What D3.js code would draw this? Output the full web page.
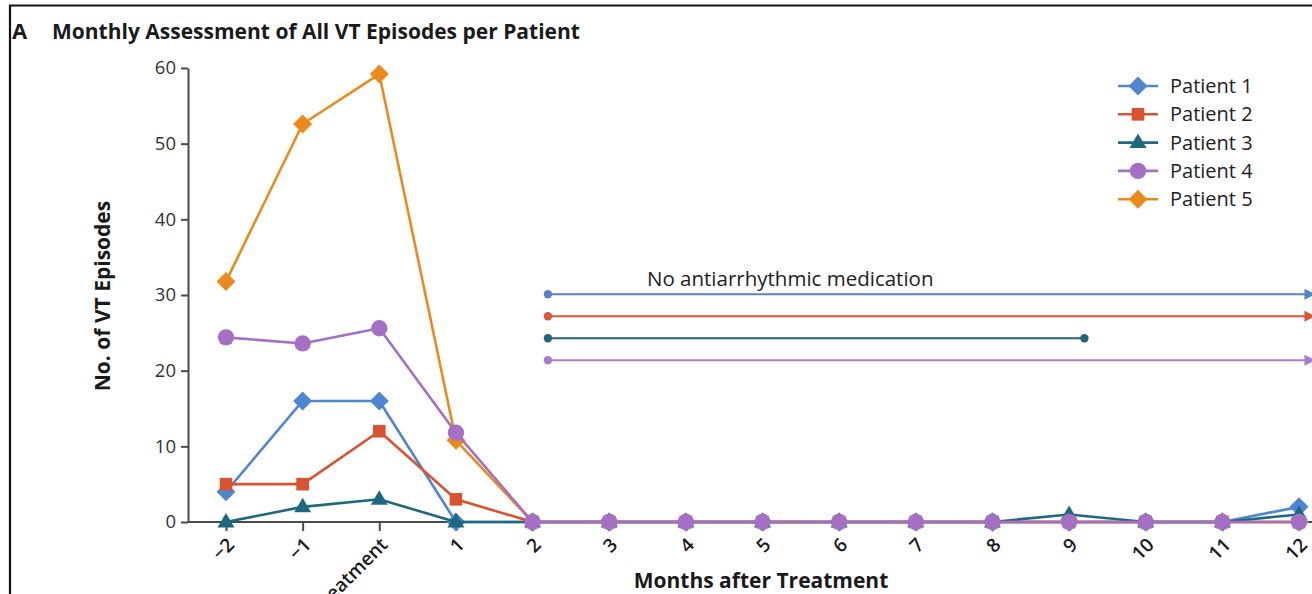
<!DOCTYPE html>
<html>
<head>
<meta charset="utf-8">
<script src="https://cdn.jsdelivr.net/npm/d3@7"></script>
<style>
  html, body { margin: 0; padding: 0; background: #fff; }
  svg { display: block; }
  text { font-family: "Open Sans", "Noto Sans", sans-serif; }
</style>
</head>
<body>
<svg id="chart" width="1312" height="594"></svg>
<script>
// Month categories along the x axis
const months = ["\u22122", "\u22121", "Treatment", "1", "2", "3", "4", "5", "6", "7", "8", "9", "10", "11", "12"];

// Monthly VT episode counts per patient
const patient1 = [4, 16, 16, 0, 0, 0, 0, 0, 0, 0, 0, 0, 0, 0, 2];
const patient2 = [5, 5, 12, 3, 0, 0, 0, 0, 0, 0, 0, 0, 0, 0, 0];
const patient3 = [0, 2, 3, 0, 0, 0, 0, 0, 0, 0, 0, 1, 0, 0, 1];
const patient4 = [24.4, 23.6, 25.6, 11.8, 0, 0, 0, 0, 0, 0, 0, 0, 0, 0, 0];
const patient5 = [31.8, 52.6, 59.2, 10.8, 0, 0, 0, 0, 0, 0, 0, 0, 0, 0, 0];

const patientNames = ["Patient 1", "Patient 2", "Patient 3", "Patient 4", "Patient 5"];
const yTicks = [0, 10, 20, 30, 40, 50, 60];

// Periods without antiarrhythmic medication (months after treatment); ongoing = arrow
const medPatients = ["Patient 1", "Patient 2", "Patient 3", "Patient 4"];
const medStart = [2.2, 2.2, 2.2, 2.2];
const medEnd = [12.2, 12.2, 9.2, 12.2];
const medOngoing = [true, true, false, true];

const colors = {
  "Patient 1": "#4f86d2",
  "Patient 2": "#d8532f",
  "Patient 3": "#1d6a80",
  "Patient 4": "#a46fc4",
  "Patient 5": "#ea8a1c"
};
const lineColors = {
  "Patient 1": "#5a82cc",
  "Patient 2": "#d9563c",
  "Patient 3": "#1f6679",
  "Patient 4": "#a77dc9"
};
const shapes = {
  "Patient 1": "diamond",
  "Patient 2": "square",
  "Patient 3": "triangle",
  "Patient 4": "circle",
  "Patient 5": "diamond"
};

const series = [
  { name: "Patient 1", values: patient1 },
  { name: "Patient 2", values: patient2 },
  { name: "Patient 3", values: patient3 },
  { name: "Patient 4", values: patient4 },
  { name: "Patient 5", values: patient5 }
];

const svg = d3.select("#chart");
const W = 1312, H = 594;

svg.append("rect").attr("width", W).attr("height", H).attr("fill", "#fff");

// Panel frame (left and top rules)
svg.append("line").attr("x1", 10).attr("x2", 10).attr("y1", 5).attr("y2", H)
  .attr("stroke", "#111").attr("stroke-width", 2.2);
svg.append("line").attr("x1", 9).attr("x2", W).attr("y1", 5.5).attr("y2", 5.5)
  .attr("stroke", "#111").attr("stroke-width", 2.2);

// Panel title
svg.append("text").attr("x", 12).attr("y", 39)
  .attr("font-size", 22).attr("font-weight", 700).attr("fill", "#1a1a1a")
  .text("A");
svg.append("text").attr("x", 52).attr("y", 39)
  .attr("font-size", 21).attr("font-weight", 700).attr("fill", "#1a1a1a")
  .text("Monthly Assessment of All VT Episodes per Patient");

// Scales
const x = d3.scalePoint().domain(months).range([226, 1299]);
const xi = d3.scaleLinear().domain([0, months.length - 1]).range([226, 1299]);
const y = d3.scaleLinear().domain([0, 60]).range([522, 68]);
const monthIndex = m => months.indexOf("2") + (m - 2);

// Y axis
const yAxis = svg.append("g").attr("transform", "translate(188,0)")
  .call(d3.axisLeft(y).tickValues(yTicks).tickSize(7).tickSizeOuter(0).tickPadding(5));
yAxis.select(".domain").attr("stroke", "#4a4a4a").attr("stroke-width", 2);
yAxis.selectAll(".tick line").attr("stroke", "#4a4a4a").attr("stroke-width", 2);
yAxis.selectAll(".tick text").attr("font-size", 18.5).attr("fill", "#333")
  .attr("font-family", "'Open Sans', sans-serif");

svg.append("text")
  .attr("transform", "translate(110,296) rotate(-90)")
  .attr("text-anchor", "middle")
  .attr("font-size", 21).attr("font-weight", 700).attr("fill", "#1a1a1a")
  .text("No. of VT Episodes");

// X axis
svg.append("line").attr("x1", 188).attr("x2", W).attr("y1", y(0)).attr("y2", y(0))
  .attr("stroke", "#4a4a4a").attr("stroke-width", 2.2);
const xAxis = svg.append("g").attr("transform", `translate(0,${y(0)})`)
  .call(d3.axisBottom(x).tickSize(9).tickSizeOuter(0));
xAxis.select(".domain").remove();
xAxis.selectAll(".tick line").attr("stroke", "#4a4a4a").attr("stroke-width", 2);
xAxis.selectAll(".tick text")
  .attr("font-size", 19).attr("font-weight", 600).attr("fill", "#1a1a1a")
  .attr("font-family", "'Open Sans', sans-serif")
  .attr("text-anchor", "end")
  .attr("dy", null).attr("y", 0)
  .attr("transform", "translate(9,24) rotate(-45)");

svg.append("text").attr("x", 761).attr("y", 588)
  .attr("text-anchor", "middle")
  .attr("font-size", 21).attr("font-weight", 700).attr("fill", "#1a1a1a")
  .text("Months after Treatment");

// Marker shapes
function symbolPath(shape, scale) {
  const s = scale || 1;
  if (shape === "diamond") return `M0,${-9.5 * s}L${9.5 * s},0L0,${9.5 * s}L${-9.5 * s},0Z`;
  if (shape === "square") return d3.symbol(d3.symbolSquare, 160 * s * s)();
  if (shape === "triangle") return `M0,${-9 * s}L${8.5 * s},${5.5 * s}L${-8.5 * s},${5.5 * s}Z`;
  return d3.symbol(d3.symbolCircle, 210 * s * s)();
}

// Medication bars
const laneY = i => y(30.1) + i * 22;
svg.append("defs").selectAll("marker")
  .data(medPatients).join("marker")
  .attr("id", (d, i) => "arrow" + i)
  .attr("viewBox", "0 0 10 10").attr("refX", 9).attr("refY", 5)
  .attr("markerUnits", "userSpaceOnUse")
  .attr("markerWidth", 13).attr("markerHeight", 11).attr("orient", "auto")
  .append("path").attr("d", "M0,0L10,5L0,10Z").attr("fill", d => lineColors[d]);

const lanes = svg.append("g");
medPatients.forEach((p, i) => {
  const x0 = xi(monthIndex(medStart[i]));
  const x1 = xi(monthIndex(medEnd[i]));
  lanes.append("line").attr("x1", x0).attr("x2", x1)
    .attr("y1", laneY(i)).attr("y2", laneY(i))
    .attr("stroke", lineColors[p]).attr("stroke-width", 2)
    .attr("marker-end", medOngoing[i] ? `url(#arrow${i})` : null);
  lanes.append("circle").attr("cx", x0).attr("cy", laneY(i)).attr("r", 4.2)
    .attr("fill", lineColors[p]);
  if (!medOngoing[i]) {
    lanes.append("circle").attr("cx", x1).attr("cy", laneY(i)).attr("r", 4.2)
      .attr("fill", lineColors[p]);
  }
});
lanes.append("text").attr("x", 647).attr("y", 286)
  .attr("font-size", 20.5).attr("fill", "#222")
  .text("No antiarrhythmic medication");

// Series lines and markers
const line = d3.line().x((d, i) => x(months[i])).y(d => y(d));
const drawOrder = ["Patient 5", "Patient 1", "Patient 3", "Patient 2", "Patient 4"];
drawOrder.forEach(name => {
  const s = series.find(d => d.name === name);
  const g = svg.append("g");
  g.append("path").datum(s.values).attr("d", line)
    .attr("fill", "none").attr("stroke", colors[name]).attr("stroke-width", 2.6)
    .attr("stroke-linejoin", "round");
  g.selectAll("path.pt").data(s.values).join("path").attr("class", "pt")
    .attr("transform", (d, i) => `translate(${x(months[i])},${y(d)})`)
    .attr("d", symbolPath(shapes[name]))
    .attr("fill", colors[name]);
});

// Legend
const legend = svg.append("g");
patientNames.forEach((name, i) => {
  const ly = 86 + i * 28.3;
  legend.append("line").attr("x1", 1118).attr("x2", 1158).attr("y1", ly).attr("y2", ly)
    .attr("stroke", colors[name]).attr("stroke-width", 2.6);
  legend.append("path").attr("transform", `translate(1138,${ly})`)
    .attr("d", symbolPath(shapes[name], 1)).attr("fill", colors[name]);
  legend.append("text").attr("x", 1170).attr("y", ly + 7)
    .attr("font-size", 20).attr("fill", "#222").text(name);
});
</script>
</body>
</html>
